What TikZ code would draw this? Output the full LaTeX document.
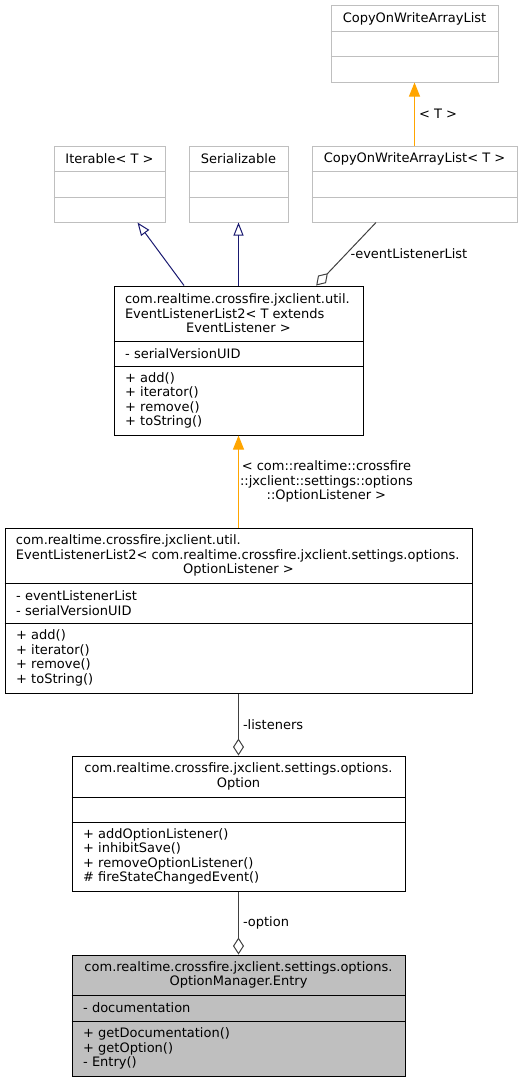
\documentclass[tikz,border=0pt]{standalone}
\usepackage{fontspec}
\setmainfont{DejaVu Sans}
\usetikzlibrary{arrows.meta}
\definecolor{grey75}{HTML}{BFBFBF}
\definecolor{grey25}{HTML}{404040}
\definecolor{midblue}{HTML}{191970}
\definecolor{tmplorange}{HTML}{FFA500}

\begin{document}
\begin{tikzpicture}[x=1pt, y=-1pt,
  every node/.style={font=\fontsize{13}{14.5}\selectfont},
  extcls/.style={draw=grey75, line width=1pt, inner sep=0pt},
  doccls/.style={draw=black, line width=1pt, inner sep=0pt},
  curcls/.style={draw=black, fill=grey75, line width=1pt, inner sep=0pt},
  clsname/.style={align=center, inner sep=0pt},
  memb/.style={align=left, anchor=west, inner sep=0pt},
  inherit/.style={midblue, line width=1pt, -{Triangle[open, length=13pt, width=10pt]}},
  tmpl/.style={tmplorange, line width=1pt, -{Triangle[length=14pt, width=11pt]}},
  usage/.style={grey25, line width=1pt, {Diamond[open, length=17pt, width=11pt]}-},
  elabel/.style={black, inner sep=4pt}]
\useasboundingbox (0,0) rectangle (522,1081);

% Classes du haut
\node[extcls, minimum width=167, minimum height=76] (COW) at (414.5,44) {};
\draw[extcls] (COW.west |- 0,32) -- (COW.east |- 0,32);
\draw[extcls] (COW.west |- 0,57) -- (COW.east |- 0,57);
\node[clsname] (COWn) at (414.5,19) {CopyOnWriteArrayList};

\node[extcls, minimum width=111, minimum height=76] (Iter) at (109.5,184) {};
\draw[extcls] (Iter.west |- 0,171) -- (Iter.east |- 0,171);
\draw[extcls] (Iter.west |- 0,197) -- (Iter.east |- 0,197);
\node[clsname] (Itern) at (109.5,158.5) {Iterable< T >};

\node[extcls, minimum width=99, minimum height=76] (Ser) at (238.5,184) {};
\draw[extcls] (Ser.west |- 0,171) -- (Ser.east |- 0,171);
\draw[extcls] (Ser.west |- 0,197) -- (Ser.east |- 0,197);
\node[clsname] (Sern) at (238.5,158.5) {Serializable};

\node[extcls, minimum width=205, minimum height=76] (COWT) at (414.5,184) {};
\draw[extcls] (COWT.west |- 0,171) -- (COWT.east |- 0,171);
\draw[extcls] (COWT.west |- 0,197) -- (COWT.east |- 0,197);
\node[clsname] (COWTn) at (414.5,158.5) {CopyOnWriteArrayList< T >};

% EventListenerList2 generique
\node[doccls, minimum width=249, minimum height=149] (EL1) at (238.5,360.5) {};
\draw[doccls] (EL1.west |- 0,341) -- (EL1.east |- 0,341);
\draw[doccls] (EL1.west |- 0,366) -- (EL1.east |- 0,366);
\node[clsname] (EL1n) at (238.5,313.5) {\makebox[227pt][l]{com.realtime.crossfire.jxclient.util.}\\
  \makebox[227pt][l]{EventListenerList2< T extends}\\EventListener >};
\node[memb] (EL1a) at (125,353.5) {- serialVersionUID};
\node[memb] (EL1m) at (125,400.5) {+ add()\\+ iterator()\\+ remove()\\+ toString()};

% EventListenerList2 avec OptionListener
\node[doccls, minimum width=467, minimum height=165] (EL2) at (238.5,610.5) {};
\draw[doccls] (EL2.west |- 0,583) -- (EL2.east |- 0,583);
\draw[doccls] (EL2.west |- 0,623) -- (EL2.east |- 0,623);
\node[clsname] (EL2n) at (238.5,555.5) {\makebox[445pt][l]{com.realtime.crossfire.jxclient.util.}\\
  \makebox[445pt][l]{EventListenerList2< com.realtime.crossfire.jxclient.settings.options.}\\OptionListener >};
\node[memb] (EL2a) at (16,603) {- eventListenerList\\- serialVersionUID};
\node[memb] (EL2m) at (16,658) {+ add()\\+ iterator()\\+ remove()\\+ toString()};

% Option
\node[doccls, minimum width=333, minimum height=135] (Opt) at (238.5,823.5) {};
\draw[doccls] (Opt.west |- 0,797) -- (Opt.east |- 0,797);
\draw[doccls] (Opt.west |- 0,822) -- (Opt.east |- 0,822);
\node[clsname] (Optn) at (238.5,776.5) {com.realtime.crossfire.jxclient.settings.options.\\Option};
\node[memb] (Optm) at (83,856.5) {+ addOptionListener()\\+ inhibitSave()\\+ removeOptionListener()\\\# fireStateChangedEvent()};

% OptionManager.Entry
\node[curcls, minimum width=333, minimum height=121] (Entry) at (238.5,1015.5) {};
\draw[doccls] (Entry.west |- 0,995) -- (Entry.east |- 0,995);
\draw[doccls] (Entry.west |- 0,1021) -- (Entry.east |- 0,1021);
\node[clsname] (Entryn) at (238.5,975) {com.realtime.crossfire.jxclient.settings.options.\\OptionManager.Entry};
\node[memb] (Entrya) at (83,1008) {- documentation};
\node[memb] (Entrym) at (83,1048.5) {+ getDocumentation()\\+ getOption()\\- Entry()};

% Heritage
\draw[inherit] (EL1.126) -- (Iter.306);
\draw[inherit] (EL1.north) -- (Ser.south);

% Instances de modele
\draw[tmpl] (COWT.north) -- (COW.south) node[midway, right, elabel] {< T >};
\draw[tmpl] (EL2.north) -- (EL1.south) node[midway, right, elabel, align=center, inner sep=1pt]
  {< com::realtime::crossfire\\::jxclient::settings::options\\::OptionListener >};

% Utilisation
\draw[usage] (EL1.44) -- (COWT.225) node[midway, right, elabel] {-eventListenerList};
\draw[usage] (Opt.north) -- (EL2.south) node[midway, right, elabel] {-listeners};
\draw[usage] (Entry.north) -- (Opt.south) node[midway, right, elabel] {-option};

\end{tikzpicture}
\end{document}
